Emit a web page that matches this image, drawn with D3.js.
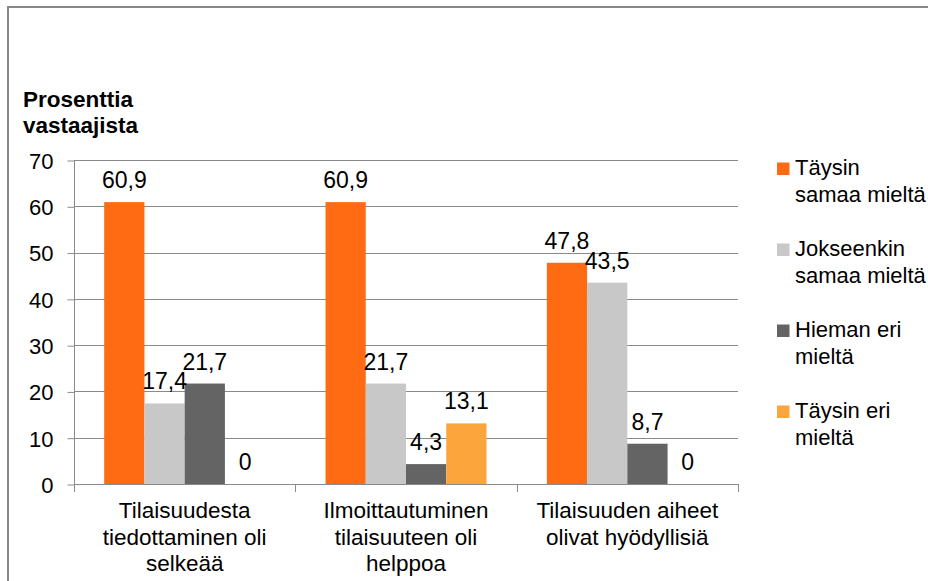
<!DOCTYPE html>
<html>
<head>
<meta charset="utf-8">
<script src="https://cdn.jsdelivr.net/npm/d3@7"></script>
<style>
  html, body { margin: 0; padding: 0; background: #fff; }
  svg { display: block; font-family: "Liberation Sans", Arial, sans-serif; }
</style>
</head>
<body>
<svg id="chart" width="928" height="581"></svg>
<script>
// Survey categories (wrapped over lines as shown under the axis)
const categories = [
  ["Tilaisuudesta", "tiedottaminen oli", "selkeää"],
  ["Ilmoittautuminen", "tilaisuuteen oli", "helppoa"],
  ["Tilaisuuden aiheet", "olivat hyödyllisiä"]
];

// Answer options (legend entries, wrapped)
const seriesLabels = [
  ["Täysin", "samaa mieltä"],
  ["Jokseenkin", "samaa mieltä"],
  ["Hieman eri", "mieltä"],
  ["Täysin eri", "mieltä"]
];
const seriesColors = ["#ff6b12", "#c8c8c8", "#646464", "#fba53c"];

// Share of respondents (%) per answer option, one value per category
const taysinSamaa = [60.9, 60.9, 47.8];
const jokseenkinSamaa = [17.4, 21.7, 43.5];
const hiemanEri = [21.7, 4.3, 8.7];
const taysinEri = [0, 13.1, 0];
const seriesValues = [taysinSamaa, jokseenkinSamaa, hiemanEri, taysinEri];

const yTicks = [0, 10, 20, 30, 40, 50, 60, 70];
const yTitle = ["Prosenttia", "vastaajista"];

const svg = d3.select("#chart");
const gridColor = "#8a8a8a";
const textColor = "#000";

// Outer frame (top and left edges)
svg.append("line").attr("x1", 8).attr("x2", 928).attr("y1", 7).attr("y2", 7)
  .attr("stroke", "#888").attr("stroke-width", 2);
svg.append("line").attr("x1", 8).attr("x2", 8).attr("y1", 6).attr("y2", 581)
  .attr("stroke", "#888").attr("stroke-width", 2);

const plot = { left: 74, right: 738, top: 160, bottom: 484 };

const y = d3.scaleLinear().domain([0, 70]).range([plot.bottom, plot.top]);
const x0 = d3.scaleBand().domain(d3.range(categories.length))
  .range([plot.left, plot.right]).padding(0);
const x1 = d3.scaleBand().domain(d3.range(seriesValues.length))
  .range([0, x0.bandwidth()]).paddingInner(0).paddingOuter(0.75);

// Horizontal gridlines
svg.append("g").selectAll("line").data(yTicks.filter(d => d > 0)).join("line")
  .attr("x1", plot.left).attr("x2", plot.right)
  .attr("y1", d => Math.round(y(d)) + 0.5).attr("y2", d => Math.round(y(d)) + 0.5)
  .attr("stroke", gridColor).attr("stroke-width", 1);

// Y axis
const yAxis = d3.axisLeft(y).tickValues(yTicks).tickSize(7).tickPadding(14)
  .tickFormat(d3.format("d"));
const yG = svg.append("g").attr("transform", `translate(${plot.left + 0.5},0.5)`).call(yAxis);
yG.select(".domain").remove();
yG.selectAll(".tick line").attr("stroke", gridColor);
yG.selectAll(".tick text").attr("fill", textColor)
  .style("font-size", "22px").style("font-family", "'Liberation Sans', Arial, sans-serif")
  .attr("dy", "0.36em");
svg.append("line").attr("x1", plot.left + 0.5).attr("x2", plot.left + 0.5)
  .attr("y1", plot.top).attr("y2", plot.bottom + 8)
  .attr("stroke", gridColor);

// Bars
const groups = svg.append("g").selectAll("g").data(categories).join("g")
  .attr("transform", (d, i) => `translate(${x0(i)},0)`);

groups.each(function(_, ci) {
  const g = d3.select(this);
  const rows = seriesValues.map((vals, si) => ({ si, v: vals[ci] }));
  g.selectAll("rect").data(rows).join("rect")
    .attr("x", d => x1(d.si))
    .attr("width", x1.bandwidth())
    .attr("y", d => y(d.v))
    .attr("height", d => y(0) - y(d.v))
    .attr("fill", d => seriesColors[d.si]);
  g.selectAll("text.val").data(rows).join("text")
    .attr("class", "val")
    .attr("x", d => x1(d.si) + x1.bandwidth() / 2)
    .attr("y", d => y(d.v) - 14)
    .attr("text-anchor", "middle")
    .attr("fill", textColor)
    .style("font-size", "23px")
    .text(d => String(d.v).replace(".", ","));
});

// X axis line and category tick marks
svg.append("line").attr("x1", plot.left).attr("x2", plot.right)
  .attr("y1", plot.bottom + 0.5).attr("y2", plot.bottom + 0.5)
  .attr("stroke", gridColor);
const bounds = d3.range(categories.length + 1).map(i => plot.left + i * x0.step());
svg.append("g").selectAll("line").data(bounds.slice(1)).join("line")
  .attr("x1", d => Math.round(d) + 0.5).attr("x2", d => Math.round(d) + 0.5)
  .attr("y1", plot.bottom).attr("y2", plot.bottom + 8)
  .attr("stroke", gridColor);

// Category labels
svg.append("g").selectAll("text").data(categories).join("text")
  .attr("text-anchor", "middle")
  .attr("fill", textColor)
  .style("font-size", "22.5px")
  .each(function(lines, i) {
    d3.select(this).selectAll("tspan").data(lines).join("tspan")
      .attr("x", x0(i) + x0.bandwidth() / 2)
      .attr("y", (d, j) => 518 + j * 26.5)
      .text(d => d);
  });

// Y axis title
svg.append("text").attr("fill", textColor)
  .style("font-size", "22.5px").style("font-weight", "bold")
  .selectAll("tspan").data(yTitle).join("tspan")
  .attr("x", 23).attr("y", (d, j) => 107 + j * 26).text(d => d);

// Legend
const legend = svg.append("g").selectAll("g").data(seriesLabels).join("g")
  .attr("transform", (d, i) => `translate(777,${175 + i * 81})`);
legend.append("rect")
  .attr("x", 0).attr("y", -12.5).attr("width", 12.5).attr("height", 12.5)
  .attr("fill", (d, i) => seriesColors[i]);
legend.append("text").attr("fill", textColor).style("font-size", "22px")
  .selectAll("tspan").data(d => d).join("tspan")
  .attr("x", 18).attr("y", (d, j) => j * 26.5).text(d => d);
</script>
</body>
</html>
